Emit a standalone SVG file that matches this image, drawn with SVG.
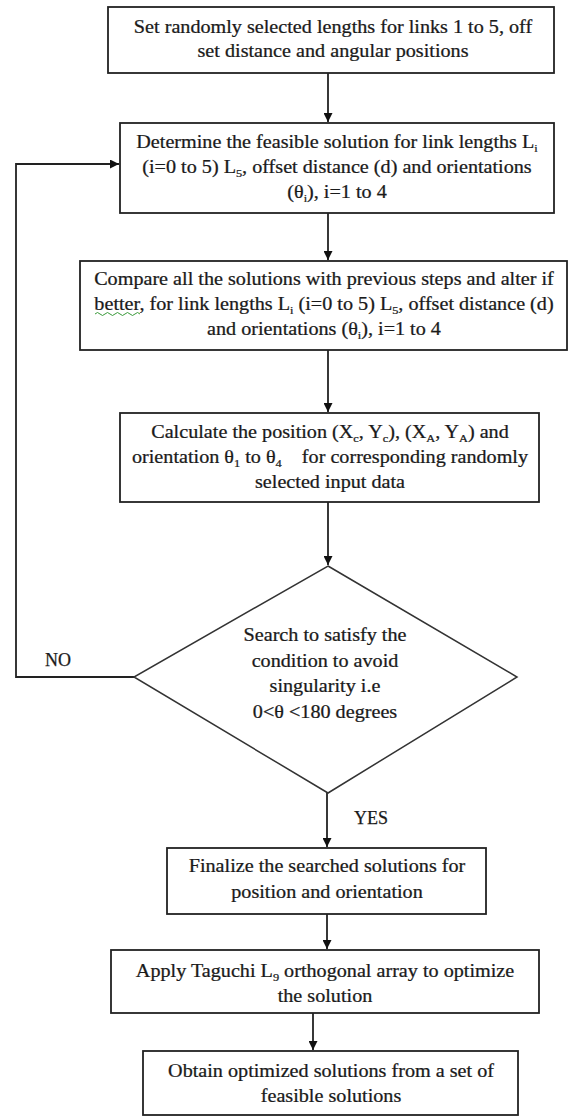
<svg xmlns="http://www.w3.org/2000/svg" width="568" height="1117" viewBox="0 0 568 1117">
<defs>
<style>
.box{fill:#fff;stroke:#222;stroke-width:1.8}
.dia{fill:#fff;stroke:#333;stroke-width:1.5}
.t{font-family:"Liberation Serif","Times New Roman",serif;font-size:18px;fill:#1a1a1a;stroke:#1a1a1a;stroke-width:0.25;text-anchor:middle}
.l{font-family:"Liberation Serif","Times New Roman",serif;font-size:18px;fill:#1a1a1a;stroke:#1a1a1a;stroke-width:0.25}
.sub{font-size:11px}
.con{fill:none;stroke:#222;stroke-width:1.8}
</style>
<marker id="ah" viewBox="0 0 10 10" refX="10" refY="5" markerWidth="9" markerHeight="9" markerUnits="userSpaceOnUse" orient="auto">
<path d="M0,0 L10,5 L0,10 z" fill="#111"/>
</marker>
</defs>
<rect width="568" height="1117" fill="#fff"/>
<g id="connectors">
<line class="con" x1="328" y1="73" x2="328" y2="122" marker-end="url(#ah)"/>
<line class="con" x1="328" y1="213" x2="328" y2="260" marker-end="url(#ah)"/>
<line class="con" x1="328" y1="350" x2="328" y2="412" marker-end="url(#ah)"/>
<line class="con" x1="328" y1="502" x2="328" y2="565" marker-end="url(#ah)"/>
<line class="con" x1="327" y1="793" x2="327" y2="847" marker-end="url(#ah)"/>
<line class="con" x1="327" y1="914" x2="327" y2="949" marker-end="url(#ah)"/>
<line class="con" x1="313" y1="1013" x2="313" y2="1050" marker-end="url(#ah)"/>
<polyline class="con" points="134,677 16,677 16,164 119,164" marker-end="url(#ah)"/>
<text class="l" x="45" y="666">NO</text>
<text class="l" x="354" y="824">YES</text>
</g>
<g id="n1">
<rect class="box" x="108" y="7" width="446" height="66"/>
<text class="t" transform="translate(333,0) scale(1.12,1)"><tspan x="0" y="33">Set randomly selected lengths for links 1 to 5, off</tspan><tspan x="0" y="57">set distance and angular positions</tspan></text>
</g>
<g id="n2">
<rect class="box" x="120" y="123" width="434" height="90"/>
<text class="t" transform="translate(337,0) scale(1.12,1)"><tspan x="0" y="148">Determine the feasible solution for link lengths L<tspan class="sub" dy="4">i</tspan></tspan><tspan x="0" y="173">(i=0 to 5) L<tspan class="sub" dy="4">5</tspan><tspan dy="-4">, offset distance (d) and orientations</tspan></tspan><tspan x="0" y="198">(θ<tspan class="sub" dy="4">i</tspan><tspan dy="-4">), i=1 to 4</tspan></tspan></text>
</g>
<g id="n3">
<rect class="box" x="80" y="261" width="487" height="89"/>
<text class="t" transform="translate(324,0) scale(1.12,1)"><tspan x="0" y="285">Compare all the solutions with previous steps and alter if</tspan><tspan x="0" y="310">better, for link lengths L<tspan class="sub" dy="4">i</tspan><tspan dy="-4"> (i=0 to 5) L</tspan><tspan class="sub" dy="4">5</tspan><tspan dy="-4">, offset distance (d)</tspan></tspan><tspan x="0" y="335">and orientations (θ<tspan class="sub" dy="4">i</tspan><tspan dy="-4">), i=1 to 4</tspan></tspan></text>
<path d="M95,314 q2.5,-3 5,0 t5,0 t5,0 t5,0 t5,0 t5,0 t5,0 t5,0 t5,0" fill="none" stroke="#3a9a3a" stroke-width="1"/>
</g>
<g id="n4">
<rect class="box" x="120" y="413" width="419" height="89"/>
<text class="t" transform="translate(330,0) scale(1.12,1)"><tspan x="0" y="438">Calculate the position (X<tspan class="sub" dy="4">c</tspan><tspan dy="-4">, Y</tspan><tspan class="sub" dy="4">c</tspan><tspan dy="-4">), (X</tspan><tspan class="sub" dy="4">A</tspan><tspan dy="-4">, Y</tspan><tspan class="sub" dy="4">A</tspan><tspan dy="-4">) and</tspan></tspan><tspan x="0" y="463">orientation θ<tspan class="sub" dy="4">1</tspan><tspan dy="-4"> to θ</tspan><tspan class="sub" dy="4">4</tspan><tspan dy="-4" xml:space="preserve">    for corresponding randomly</tspan></tspan><tspan x="0" y="488">selected input data</tspan></text>
</g>
<g id="n5">
<polygon class="dia" points="328,566 517,677 328,793 134,677"/>
<text class="t" transform="translate(325,0) scale(1.12,1)"><tspan x="0" y="641">Search to satisfy the</tspan><tspan x="0" y="667">condition to avoid</tspan><tspan x="0" y="692">singularity i.e</tspan><tspan x="0" y="718">0&lt;θ &lt;180 degrees</tspan></text>
</g>
<g id="n6">
<rect class="box" x="167" y="848" width="319" height="66"/>
<text class="t" transform="translate(327,0) scale(1.12,1)"><tspan x="0" y="872">Finalize the searched solutions for</tspan><tspan x="0" y="898">position and orientation</tspan></text>
</g>
<g id="n7">
<rect class="box" x="111" y="950" width="428" height="63"/>
<text class="t" transform="translate(325,0) scale(1.12,1)"><tspan x="0" y="977">Apply Taguchi L<tspan class="sub" dy="4">9</tspan><tspan dy="-4"> orthogonal array to optimize</tspan></tspan><tspan x="0" y="1002">the solution</tspan></text>
</g>
<g id="n8">
<rect class="box" x="143" y="1051" width="375" height="64"/>
<text class="t" transform="translate(331,0) scale(1.12,1)"><tspan x="0" y="1077">Obtain optimized solutions from a set of</tspan><tspan x="0" y="1102">feasible solutions</tspan></text>
</g>
</svg>
